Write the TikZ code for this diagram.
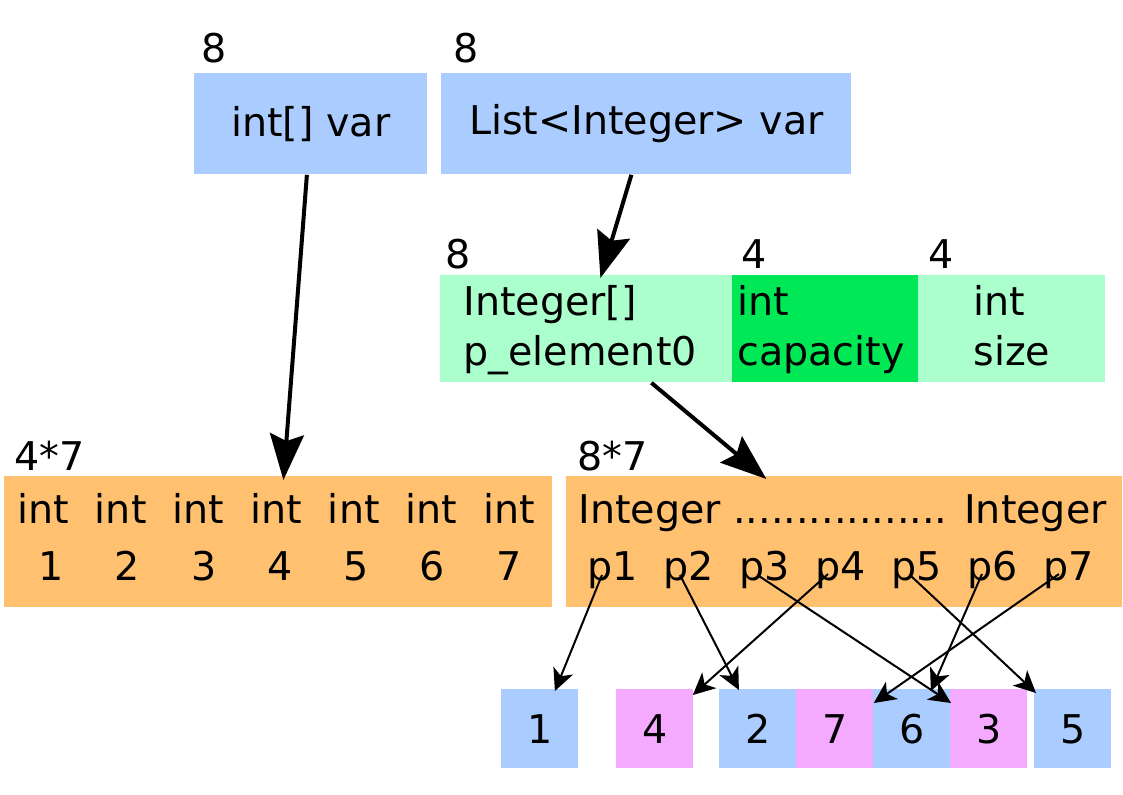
\documentclass[tikz,border=0pt]{standalone}
\usepackage{fontspec}
\setmainfont{DejaVu Sans}
\usepackage{tikz}
\usetikzlibrary{arrows.meta, positioning, calc}

\definecolor{refblue}{HTML}{AACCFF}
\definecolor{fieldgreen}{HTML}{AAFFCC}
\definecolor{capgreen}{HTML}{00E855}
\definecolor{heaporange}{HTML}{FFC170}
\definecolor{objpink}{HTML}{F4AAFF}

\begin{document}
\begin{tikzpicture}[
    x=0.5pt, y=-0.5pt,
    txt/.style={font=\fontsize{19.8}{25}\selectfont, inner sep=0pt},
    cell/.style={rectangle, txt, anchor=north west, minimum height=50.5pt},
    field/.style={rectangle, anchor=north west, minimum height=53.5pt, inner sep=0pt},
    heap/.style={rectangle, anchor=north west, minimum height=65.5pt, inner sep=0pt, fill=heaporange},
    obj/.style={rectangle, txt, anchor=north west, minimum width=38.5pt, minimum height=39.5pt},
    bigarrow/.style={line width=2pt, -{Stealth[length=23pt, width=17pt, inset=3.5pt]}},
    link/.style={line width=1pt, -{Stealth[length=11pt, width=10.5pt, inset=3pt]}}
]
    \useasboundingbox (0,0) rectangle (1123,794);

    % references on the stack
    \node[cell, fill=refblue, minimum width=116.5pt] (intvar) at (194,73) {int[] var};
    \node[cell, fill=refblue, minimum width=205pt] (listvar) at (441,73) {List<Integer> var};
    \node[txt, anchor=base west] (szA) at (201,62) {8};
    \node[txt, anchor=base west] (szB) at (453,62) {8};

    % list object
    \node[field, fill=fieldgreen, minimum width=146pt] (elem) at (440,275) {};
    \node[field, fill=capgreen, minimum width=93pt] (cap) at (732,275) {};
    \node[field, fill=fieldgreen, minimum width=93.5pt] (size) at (918,275) {};
    \node[txt, anchor=base west] (szelem) at (445,268) {8};
    \node[txt, anchor=base west] (szcap) at (741,268) {4};
    \node[txt, anchor=base west] (szsize) at (928,268) {4};
    \node[txt, anchor=base west] (elemA) at (463,315) {Integer[]};
    \node[txt, anchor=base west] (elemB) at (463,365) {p\_element0};
    \node[txt, anchor=base west] (capA) at (737,315) {int};
    \node[txt, anchor=base west] (capB) at (737,365) {capacity};
    \node[txt, anchor=base west] (sizeA) at (973,315) {int};
    \node[txt, anchor=base west] (sizeB) at (973,365) {size};

    % arrays
    \node[heap, minimum width=274pt] (arrL) at (4,476) {};
    \node[heap, minimum width=278pt] (arrR) at (566,476) {};
    \node[txt, anchor=base west] (szL) at (14,470) {4*7};
    \node[txt, anchor=base west] (szR) at (577,470) {8*7};
    \foreach \i in {1,...,7} {
        \node[txt, anchor=base] (int\i) at ({43+77.7*(\i-1)},523) {int};
        \node[txt, anchor=base] (n\i) at ({51+76.3*(\i-1)},580) {\i};
        \node[txt, anchor=base] (p\i) at ({613+76*(\i-1)},580) {p\i};
    }
    \node[txt, anchor=base west] (ints) at (578,523) {Integer ................. Integer};

    % boxed Integer objects
    \node[obj, fill=refblue] (b1) at (501,689) {1};
    \node[obj, fill=objpink] (b4) at (616,689) {4};
    \node[obj, fill=refblue] (b2) at (719,689) {2};
    \node[obj, fill=objpink] (b7) at (796,689) {7};
    \node[obj, fill=refblue] (b6) at (873,689) {6};
    \node[obj, fill=objpink] (b3) at (950,689) {3};
    \node[obj, fill=refblue] (b5) at (1034,689) {5};

    \draw[bigarrow] ($(intvar.south)+(-4,0)$) -- ($(arrL.north)+(5,4)$);
    \draw[bigarrow] ($(listvar.south)+(-15,0)$) -- ($(elem.north)+(14,3)$);
    \draw[bigarrow] ($(elem.south)+(65,0)$) -- ($(arrR.north)+(-78,3)$);

    \draw[link] ($(p1.base)+(-11,-5)$) -- ($(b1.north)+(15,2)$);
    \draw[link] ($(p2.base)+(-9,-5)$) -- ($(b2.north)+(-19,1)$);
    \draw[link] ($(p3.base)+(-6,-4)$) -- ($(b3.north west)+(1,14)$);
    \draw[link] ($(p4.base)+(-13,-6)$) -- ($(b4.north east)+(-1,6)$);
    \draw[link] ($(p5.base)+(-6,-4)$) -- ($(b5.north west)+(2,4)$);
    \draw[link] ($(p6.base)+(-11,-6)$) -- ($(b6.north)+(19,2)$);
    \draw[link] ($(p7.base)+(-10,-6)$) -- ($(b7.north east)+(0,14)$);
\end{tikzpicture}
\end{document}
